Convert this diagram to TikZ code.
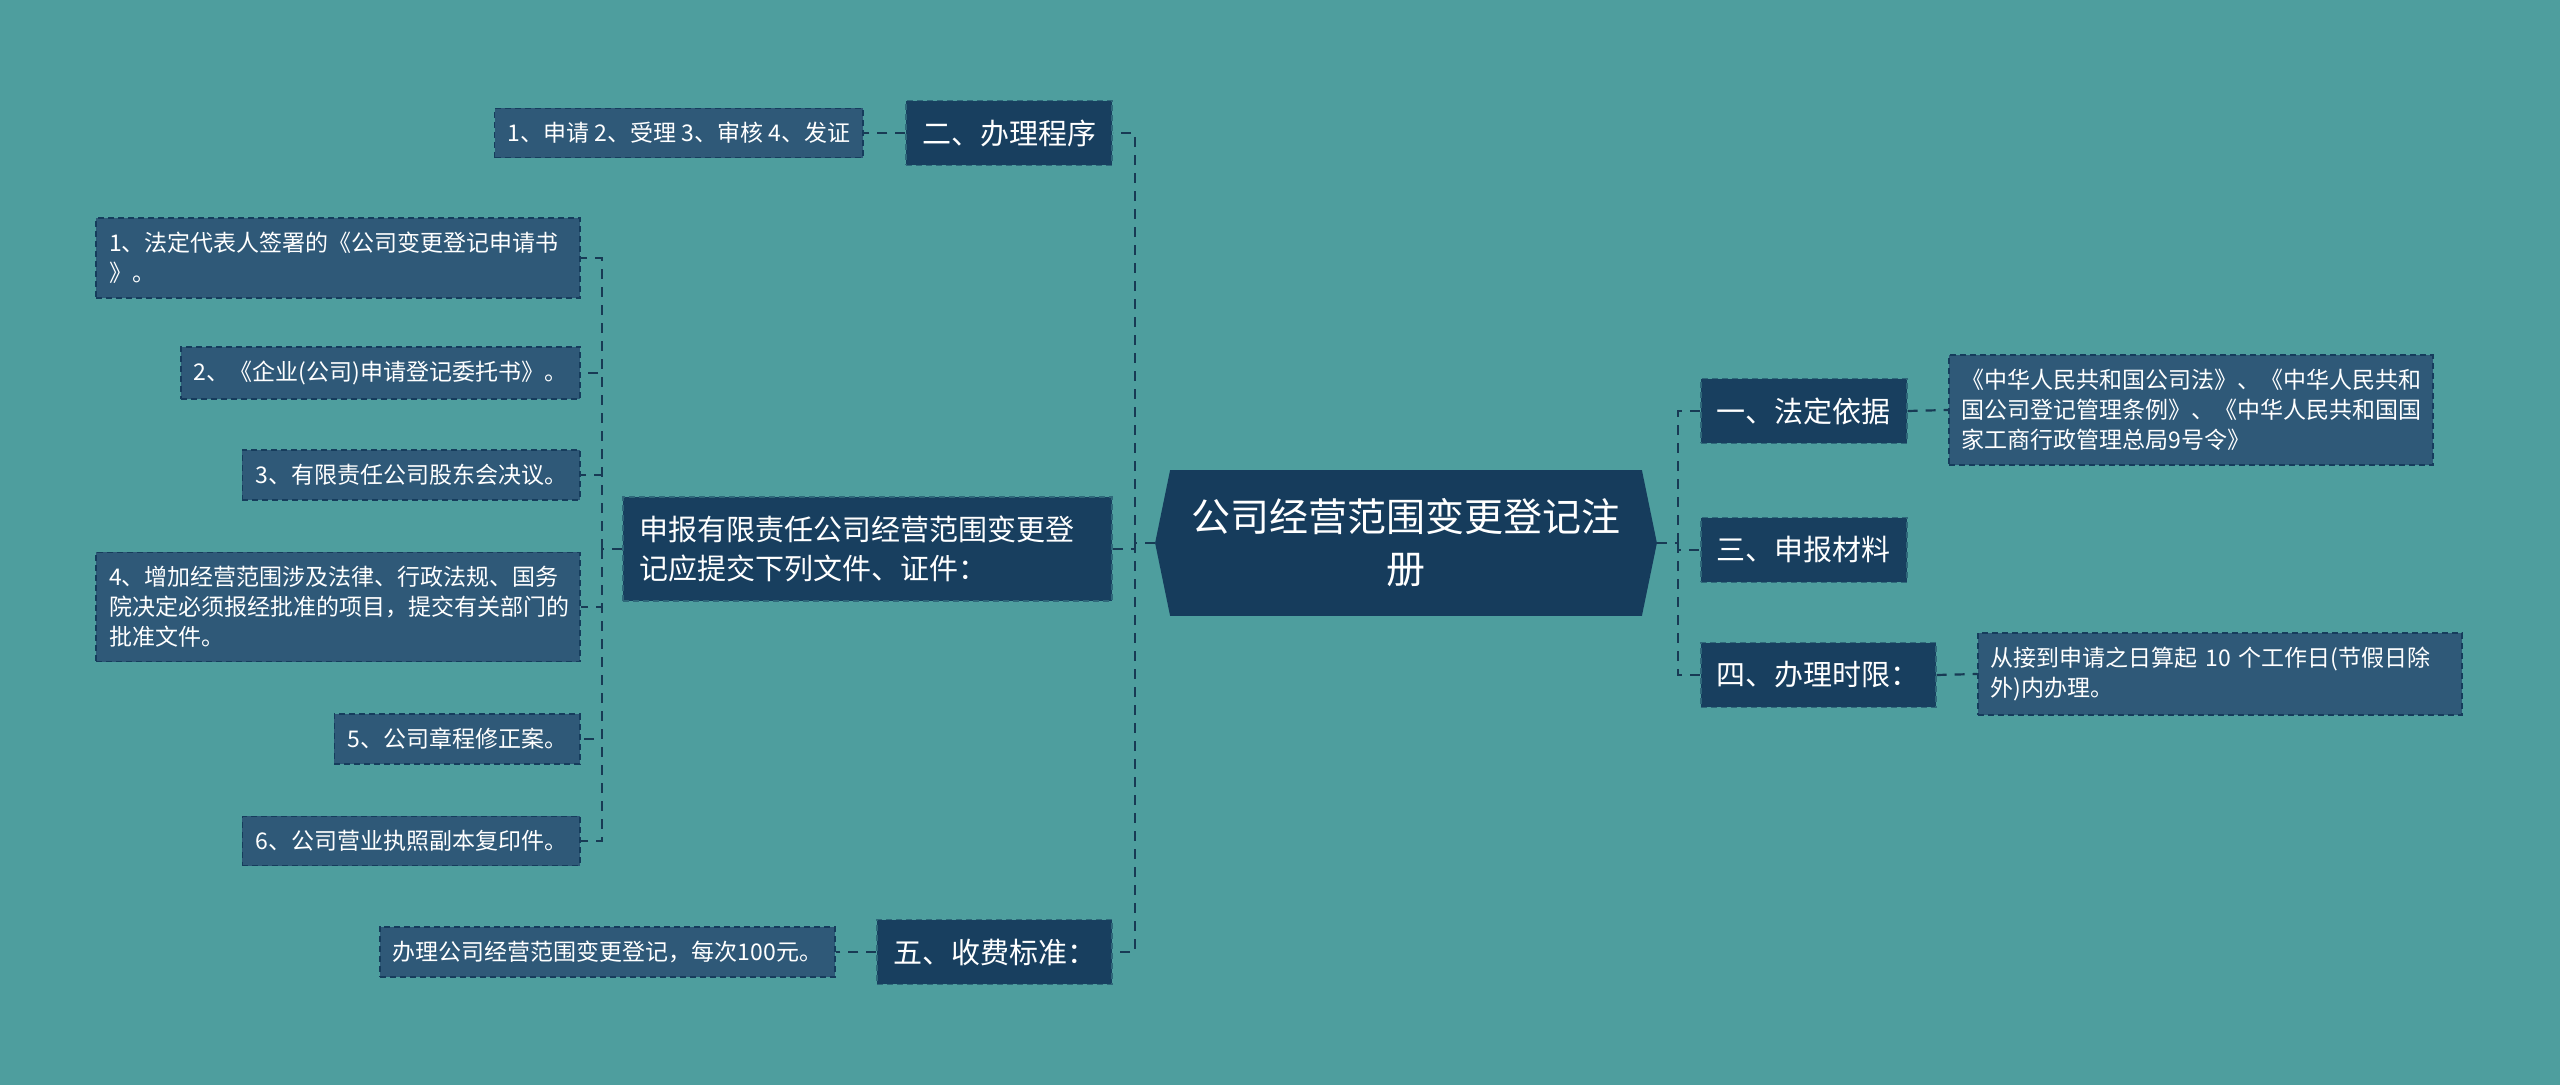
\documentclass[tikz,border=0pt]{standalone}
\usepackage{fontspec}
\usetikzlibrary{backgrounds}
\newfontfamily\cjk{Noto Sans CJK SC}

\definecolor{bgteal}{RGB}{78,158,158}
\definecolor{rootblue}{RGB}{22,60,92}
\definecolor{mainblue}{RGB}{24,63,95}
\definecolor{leafblue}{RGB}{47,89,120}
\definecolor{linkblue}{RGB}{24,58,84}

\begin{document}
\begin{tikzpicture}[x=0.5pt, y=-0.5pt,
    rootbox/.style={minimum width=250.5pt, minimum height=72.5pt, inner sep=0pt,
        align=center, text=white, font=\cjk\fontsize{19.5}{26}\selectfont},
    mainbox/.style={fill=mainblue, draw=rootblue!55!bgteal, line width=0.8pt,
        dash pattern=on 3pt off 2pt, inner xsep=8pt, inner ysep=9.5pt,
        align=left, text=white, font=\cjk\fontsize{14.5}{19.5}\selectfont},
    leafbox/.style={fill=leafblue, draw=rootblue, line width=0.8pt,
        dash pattern=on 3pt off 2pt, inner xsep=6.5pt, inner ysep=7pt,
        align=left, text=white, font=\cjk\fontsize{11.5}{15}\selectfont},
    link/.style={draw=linkblue, line width=1.1pt, dash pattern=on 5pt off 4pt}]

    % --- Canvas (pixel grid of the reference) ---
    \useasboundingbox (0,0) rectangle (2560,1085);

    % --- Root ---
    \node[rootbox] (root) at (1406,543) {公司经营范围变更登记注\\册};
    \begin{scope}[on background layer]
        \fill[bgteal] (0,0) rectangle (2560,1085);
        \fill[rootblue] (root.west) -- ([xshift=7.5pt]root.north west)
            -- ([xshift=-7.5pt]root.north east) -- (root.east)
            -- ([xshift=-7.5pt]root.south east) -- ([xshift=7.5pt]root.south west) -- cycle;
    \end{scope}

    % --- Left branches ---
    \node[mainbox, anchor=east] (proc) at (1113,133) {二、办理程序};
    \node[mainbox, anchor=east, text width=228.5pt, inner xsep=8pt] (docs) at (1113,549)
        {申报有限责任公司经营范围变更登\\记应提交下列文件、证件：};
    \node[mainbox, anchor=east] (fee) at (1113,952) {五、收费标准：};

    \node[leafbox, anchor=east] (procleaf) at (864,133) {1、申请 2、受理 3、审核 4、发证};
    \node[leafbox, anchor=east] (feeleaf) at (836,952) {办理公司经营范围变更登记，每次100元。};

    % documents to hand in
    \node[leafbox, anchor=east, text width=229pt] (d1) at (581,258)
        {1、法定代表人签署的《公司变更登记申请书\\》。};
    \node[leafbox, anchor=east] (d2) at (581,373) {2、《企业(公司)申请登记委托书》。};
    \node[leafbox, anchor=east] (d3) at (581,475) {3、有限责任公司股东会决议。};
    \node[leafbox, anchor=east, text width=229pt] (d4) at (581,607)
        {4、增加经营范围涉及法律、行政法规、国务\\院决定必须报经批准的项目，提交有关部门的\\批准文件。};
    \node[leafbox, anchor=east] (d5) at (581,739) {5、公司章程修正案。};
    \node[leafbox, anchor=east] (d6) at (581,841) {6、公司营业执照副本复印件。};

    % --- Right branches ---
    \node[mainbox, anchor=west] (basis) at (1700,411) {一、法定依据};
    \node[mainbox, anchor=west] (mats) at (1700,550) {三、申报材料};
    \node[mainbox, anchor=west] (limit) at (1700,675) {四、办理时限：};

    \node[leafbox, anchor=west, text width=229pt] (basisleaf) at (1948,410)
        {《中华人民共和国公司法》、《中华人民共和\\国公司登记管理条例》、《中华人民共和国国\\家工商行政管理总局9号令》};
    \node[leafbox, anchor=west, text width=229pt] (limitleaf) at (1977,674)
        {从接到申请之日算起 10 个工作日(节假日除\\外)内办理。};

    % --- Connectors ---
    \coordinate (lbus) at (1135,543);
    \coordinate (rbus) at (1678,543);
    \coordinate (dbus) at (602,549);

    \draw[link] (root.west) -- (lbus);
    \foreach \n in {proc,docs,fee}
        \draw[link] (lbus) |- (\n.east);
    \draw[link] (root.east) -- (rbus);
    \foreach \n in {basis,mats,limit}
        \draw[link] (rbus) |- (\n.west);

    \draw[link] (docs.west) -- (dbus);
    \foreach \i in {1,...,6}
        \draw[link] (dbus) |- (d\i.east);

    \draw[link] (proc.west) -- (procleaf.east);
    \draw[link] (fee.west) -- (feeleaf.east);
    \draw[link] (basis.east) -- (basisleaf.west);
    \draw[link] (limit.east) -- (limitleaf.west);

\end{tikzpicture}
\end{document}
